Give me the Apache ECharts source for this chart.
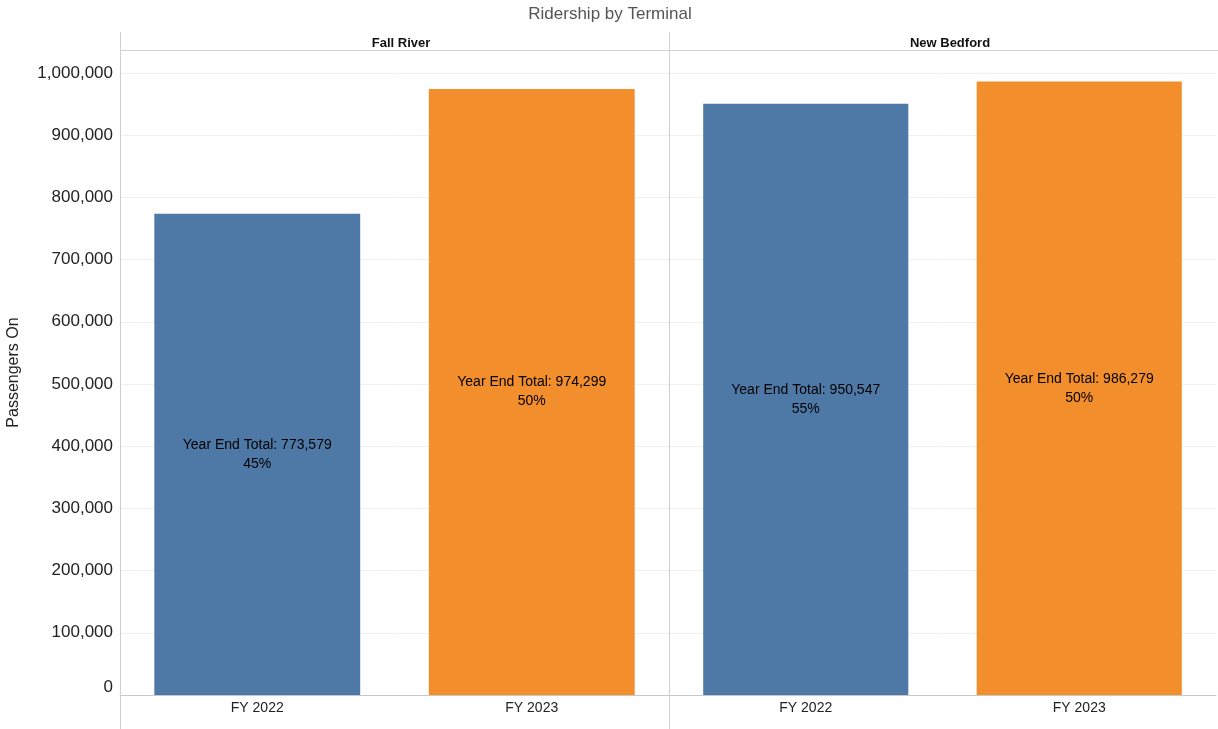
<!DOCTYPE html>
<html>
<head>
<meta charset="utf-8">
<script src="https://cdn.jsdelivr.net/npm/echarts@6/dist/echarts.min.js"></script>
<style>
  html, body { margin: 0; padding: 0; background: #fff; }
  #chart { width: 1218px; height: 729px; }
</style>
</head>
<body>
<div id="chart"></div>
<script>
// Ridership by terminal, fiscal-year totals
const terminals = ['Fall River', 'New Bedford'];
const years = ['FY 2022', 'FY 2023'];
const fallRiver = [773579, 974299];
const newBedford = [950547, 986279];
const fallRiverPct = [45, 50];
const newBedfordPct = [55, 50];
const yTicks = [0, 100000, 200000, 300000, 400000, 500000, 600000, 700000, 800000, 900000, 1000000];

const FONT = '"Liberation Sans", Arial, sans-serif';
const yearColors = ['#4e79a7', '#f28e2b'];
const yMax = 1037000;

const chart = echarts.init(document.getElementById('chart'), null, { renderer: 'canvas' });

function fmt(v) { return v.toLocaleString('en-US'); }

function barSeries(idx, values, pcts) {
  return {
    type: 'bar',
    xAxisIndex: idx,
    yAxisIndex: idx,
    barWidth: '75%',
    data: values.map((v, i) => ({ value: v, itemStyle: { color: yearColors[i] } })),
    label: {
      show: true,
      position: 'inside',
      color: '#000',
      fontFamily: FONT,
      fontSize: 14,
      lineHeight: 19,
      formatter: p => 'Year End Total: ' + fmt(p.value) + '\n' + pcts[p.dataIndex] + '%'
    },
    emphasis: { disabled: true },
    animation: false
  };
}

function xAxis(idx) {
  return {
    type: 'category',
    gridIndex: idx,
    data: years,
    axisLine: { show: true, lineStyle: { color: '#c8c8c8', width: 1 } },
    axisTick: { show: false },
    axisLabel: { color: '#222', fontFamily: FONT, fontSize: 14, margin: 6 }
  };
}

function yAxis(idx) {
  return {
    type: 'value',
    gridIndex: idx,
    min: 0,
    max: yMax,
    interval: 100000,
    axisLine: { show: false },
    axisTick: { show: false },
    splitLine: { show: true, lineStyle: { color: '#f0f0f0', width: 1 } },
    axisLabel: {
      show: idx === 0,
      showMaxLabel: false,
      color: '#222',
      fontFamily: FONT,
      fontSize: 17,
      margin: 7,
      // the zero label sits just above the baseline
      formatter: v => v === 0 ? '{zero|0}' : (yTicks.indexOf(v) >= 0 ? fmt(v) : ''),
      rich: { zero: { fontFamily: FONT, fontSize: 17, color: '#222', padding: [0, 0, 16, 0] } }
    },
    name: idx === 0 ? 'Passengers On' : '',
    nameLocation: 'middle',
    nameGap: 98,
    nameTextStyle: { color: '#222', fontFamily: FONT, fontSize: 16 }
  };
}

const lineStyle = { stroke: '#d0d0d0', lineWidth: 1 };

chart.setOption({
  backgroundColor: '#fff',
  title: [
    { text: 'Ridership by Terminal', left: 605, top: 1, textAlign: 'center',
      textStyle: { color: '#555', fontFamily: FONT, fontSize: 17, fontWeight: 'normal' } },
    { text: terminals[0], left: 396, top: 32, textAlign: 'center',
      textStyle: { color: '#111', fontFamily: FONT, fontSize: 13, fontWeight: 'bold' } },
    { text: terminals[1], left: 945, top: 32, textAlign: 'center',
      textStyle: { color: '#111', fontFamily: FONT, fontSize: 13, fontWeight: 'bold' } }
  ],
  grid: [
    { left: 120, width: 549, top: 50, bottom: 34 },
    { left: 669, right: 2, top: 50, bottom: 34 }
  ],
  xAxis: [xAxis(0), xAxis(1)],
  yAxis: [yAxis(0), yAxis(1)],
  series: [barSeries(0, fallRiver, fallRiverPct), barSeries(1, newBedford, newBedfordPct)],
  graphic: [
    { type: 'line', shape: { x1: 120.5, y1: 32, x2: 120.5, y2: 729 }, style: lineStyle, z: 10 },
    { type: 'line', shape: { x1: 669.5, y1: 32, x2: 669.5, y2: 729 }, style: lineStyle, z: 10 },
    { type: 'line', shape: { x1: 120, y1: 50.5, x2: 1218, y2: 50.5 }, style: lineStyle, z: 10 }
  ],
  animation: false
});
</script>
</body>
</html>
